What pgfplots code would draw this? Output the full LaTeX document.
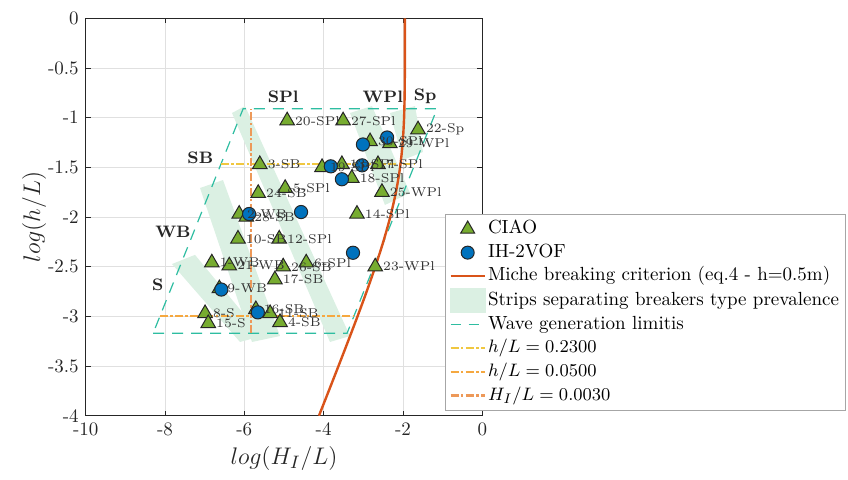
\documentclass[border=0pt]{standalone}
\usepackage{pgfplots}
\pgfplotsset{compat=1.18}
\usepackage{pgfplotstable}
\definecolor{cgreen}{rgb}{0.467,0.675,0.188}
\definecolor{cblue}{rgb}{0,0.447,0.741}
\definecolor{corange}{rgb}{0.851,0.325,0.098}
\definecolor{cteal}{rgb}{0.18,0.74,0.63}
\definecolor{cyellow}{rgb}{0.94,0.78,0.25}
\definecolor{corangeb}{rgb}{0.96,0.66,0.25}
\definecolor{csalmon}{rgb}{0.93,0.6,0.35}
\definecolor{cstrip}{rgb}{0.86,0.94,0.89}
\definecolor{axisgray}{rgb}{0.15,0.15,0.15}

\pgfplotstableread{
x y label
-4.92 -1.03 20-SPl
-3.51 -1.03 27-SPl
-1.62 -1.12 22-Sp
-2.83 -1.24 30-SPl
-2.33 -1.26 29-WPl
-5.61 -1.47 3-SB
-4.04 -1.50 19-SPl
-3.54 -1.47 13-SPl
-2.63 -1.47 7-SPl
-3.29 -1.61 18-SPl
-4.97 -1.71 5-SPl
-5.65 -1.76 24-SB
-2.53 -1.75 25-WPl
-6.13 -1.97 2-WB
-5.95 -2.00 28-SB
-3.16 -1.97 14-SPl
-6.16 -2.22 10-SB
-5.12 -2.22 12-SPl
-6.82 -2.46 1-WB
-6.38 -2.49 21-WB
-5.02 -2.50 26-SB
-4.44 -2.46 6-SPl
-2.70 -2.50 23-WPl
-5.23 -2.63 17-SB
-6.63 -2.72 9-WB
-6.99 -2.97 8-S
-6.91 -3.07 15-S
-5.71 -2.93 16-SB
-5.35 -2.97 11-SB
-5.10 -3.06 4-SB
}\ciao

\pgfplotstableread{
x y
-5.88 -1.97
-4.57 -1.95
-3.01 -1.27
-2.40 -1.20
-3.82 -1.49
-3.03 -1.48
-3.54 -1.62
-3.26 -2.36
-6.58 -2.73
-5.66 -2.96
}\ihvof

\pgfplotstableread{
x y
-1.952 0
-1.952 -0.25
-1.953 -0.5
-1.957 -0.75
-1.972 -1
-2.007 -1.25
-2.073 -1.5
-2.178 -1.75
-2.321 -2
-2.497 -2.25
-2.698 -2.5
-2.916 -2.75
-3.146 -3
-3.384 -3.25
-3.626 -3.5
-3.871 -3.75
-4.118 -4
}\miche

\begin{document}
\begin{tikzpicture}
\begin{axis}[
  at={(0,0)}, anchor=south west,
  scale only axis, width=198.3pt, height=198.7pt,
  xmin=-10, xmax=0, ymin=-4, ymax=0,
  xtick={-10,-8,-6,-4,-2,0},
  xticklabels={-10,-8,-6,-4,-2,0},
  ytick={-4,-3.5,-3,-2.5,-2,-1.5,-1,-0.5,0},
  yticklabels={-4,-3.5,-3,-2.5,-2,-1.5,-1,-0.5,0},
  tick align=inside, major tick length=2.5pt,
  grid=major, major grid style={color=black!12, line width=0.4pt},
  axis line style={color=axisgray, line width=0.4pt},
  tick style={color=axisgray, line width=0.4pt},
  ticklabel style={font=\fontsize{9.5}{11}\selectfont, text=axisgray},
  xlabel={$log(H_I/L)$}, ylabel={$log(h/L)$},
  label style={font=\fontsize{12.5}{14}\selectfont, text=axisgray},
  xlabel style={at={(axis description cs:0.5,-0.06)}, anchor=north},
  ylabel style={at={(axis description cs:-0.13,0.5)}, anchor=center},
  legend style={at={(axis description cs:0.906,0.508)}, anchor=north west,
    draw=black!35, fill=white, font=\fontsize{9.5}{11.85}\selectfont,
    inner xsep=2pt, inner ysep=1.5pt, row sep=0pt,
    nodes={inner sep=1pt, text height=7.2pt, text depth=2.6pt}},
  legend cell align=left,
]
\addlegendimage{only marks, mark=triangle*, mark size=4pt, mark options={fill=cgreen, draw=black!85, line width=0.5pt}}
\addlegendentry{CIAO}
\addlegendimage{only marks, mark=*, mark size=3.25pt, mark options={fill=cblue, draw=black!85, line width=0.5pt}}
\addlegendentry{IH-2VOF}
\addlegendimage{corange, line width=1.2pt}
\addlegendentry{Miche breaking criterion (eq.4 - h=0.5m)}
\addlegendimage{legend image code/.code={\fill[cstrip] (0pt,-6pt) rectangle (17.5pt,6pt);}}
\addlegendentry{Strips separating breakers type prevalence}
\addlegendimage{cteal, line width=0.6pt, dash pattern=on 5pt off 4pt}
\addlegendentry{Wave generation limitis}
\addlegendimage{cyellow, line width=1.1pt, dash pattern=on 4pt off 1.2pt on 1.2pt off 1.2pt}
\addlegendentry{$h/L = 0.2300$}
\addlegendimage{corangeb, line width=1.1pt, dash pattern=on 4pt off 1.2pt on 1.2pt off 1.2pt}
\addlegendentry{$h/L = 0.0500$}
\addlegendimage{csalmon, line width=1.1pt, dash pattern=on 4pt off 1.2pt on 1.2pt off 1.2pt}
\addlegendentry{$H_I/L = 0.0030$}

% strips
\addplot[forget plot, fill=cstrip, draw=none] coordinates {(-7.824,-2.473) (-7.244,-2.381) (-5.555,-3.198) (-6.109,-3.258)} -- cycle;
\addplot[forget plot, fill=cstrip, draw=none] coordinates {(-7.118,-1.708) (-6.538,-1.628) (-5.101,-3.198) (-5.807,-3.258)} -- cycle;
\addplot[forget plot, fill=cstrip, draw=none] coordinates {(-6.311,-0.953) (-5.983,-0.883) (-3.336,-3.198) (-3.841,-3.258)} -- cycle;
\addplot[forget plot, fill=cstrip, draw=none] coordinates {(-3.336,-0.953) (-2.782,-0.883) (-1.824,-1.758) (-2.455,-1.879)} -- cycle;
\addplot[forget plot, fill=cstrip, draw=none] coordinates {(-2.327,-0.953) (-1.697,-0.883) (-1.495,-1.346) (-2.000,-1.426)} -- cycle;

% wave generation limits
\addplot[forget plot, cteal, line width=0.6pt, dash pattern=on 5.5pt off 4pt] coordinates {(-8.30,-3.17) (-3.41,-3.17) (-1.14,-0.91) (-6.03,-0.91) (-8.30,-3.17)};

% h/L and H/L lines
\addplot[forget plot, cyellow, line width=1.1pt, dash pattern=on 4pt off 1.2pt on 1.2pt off 1.2pt] coordinates {(-6.59,-1.4697) (-1.70,-1.4697)};
\addplot[forget plot, corangeb, line width=1.1pt, dash pattern=on 4pt off 1.2pt on 1.2pt off 1.2pt] coordinates {(-8.13,-2.9957) (-3.24,-2.9957)};
\addplot[forget plot, csalmon, line width=1.1pt, dash pattern=on 4pt off 1.2pt on 1.2pt off 1.2pt] coordinates {(-5.83,-3.17) (-5.83,-0.91)};

% Miche
\addplot[forget plot, corange, line width=1.2pt, smooth] table[x=x,y=y] {\miche};

% data
\addplot[forget plot, only marks, mark=triangle*, mark size=4.2pt, mark options={fill=cgreen, draw=black!85, line width=0.5pt}] table[x=x,y=y] {\ciao};
\addplot[forget plot, only marks, mark=*, mark size=3.3pt, mark options={fill=cblue, draw=black!85, line width=0.5pt}] table[x=x,y=y] {\ihvof};

% labels
\addplot[forget plot, draw=none, mark=none, nodes near coords, point meta=explicit symbolic,
  every node near coord/.style={anchor=west, xshift=3.3pt, inner sep=0.5pt, font=\fontsize{6.4}{7.5}\selectfont, text=black!80}]
  table[x=x,y=y,meta=label] {\ciao};

\node[font=\bfseries\fontsize{8.3}{10}\selectfont, text=black!85] at (axis cs:-5.02,-0.79) {SPl};
\node[font=\bfseries\fontsize{8.3}{10}\selectfont, text=black!85] at (axis cs:-2.51,-0.79) {WPl};
\node[font=\bfseries\fontsize{8.3}{10}\selectfont, text=black!85] at (axis cs:-1.44,-0.79) {Sp};
\node[font=\bfseries\fontsize{8.3}{10}\selectfont, text=black!85] at (axis cs:-7.11,-1.40) {SB};
\node[font=\bfseries\fontsize{8.3}{10}\selectfont, text=black!85] at (axis cs:-7.80,-2.15) {WB};
\node[font=\bfseries\fontsize{8.3}{10}\selectfont, text=black!85] at (axis cs:-8.18,-2.68) {S};
\end{axis}
\pgfresetboundingbox
\path (-42.85pt,-31.65pt) rectangle (381.15pt,207.85pt);
\end{tikzpicture}
\end{document}
